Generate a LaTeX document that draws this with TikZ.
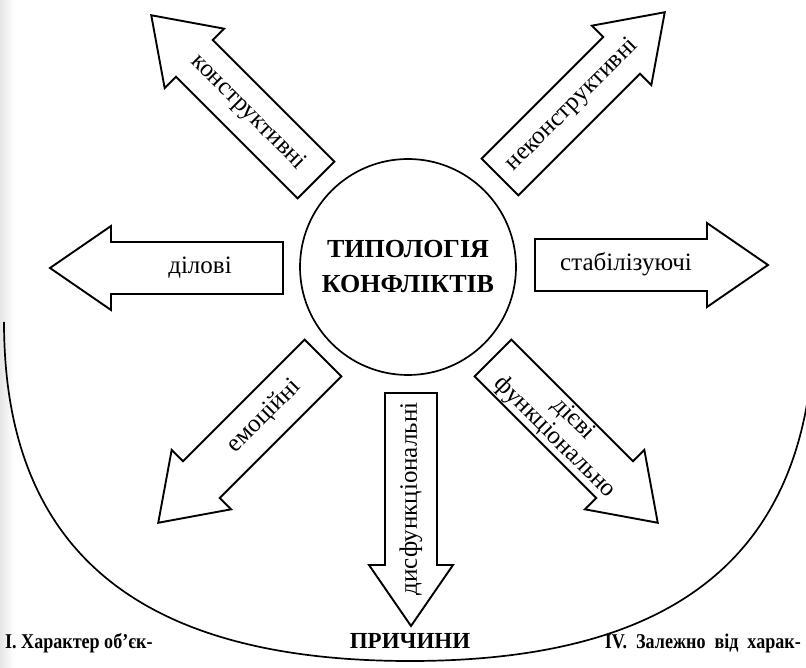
\documentclass[tikz,border=0pt]{standalone}
\usepackage{fontspec}
\setmainfont{Liberation Serif}
\newfontfamily\bookfont{Liberation Serif}
\newfontfamily\condfont[FakeStretch=0.86]{Liberation Serif}
\begin{document}
\begin{tikzpicture}[x=1pt,y=-1pt,
  outline/.style={draw=black, line width=1.9pt, line join=miter, fill=white},
  arrowtext/.style={font=\bookfont\fontsize{25}{26}\selectfont, inner sep=0pt,
    align=center, text height=11.5pt, text depth=0pt},
  hubstyle/.style={circle, draw=black, line width=1.7pt, minimum size=216pt,
    font=\bookfont\bfseries\fontsize{26}{35}\selectfont, align=center, inner sep=0pt},
  foot/.style={font=\condfont\bfseries\fontsize{21}{24}\selectfont, inner sep=0pt},
  foothead/.style={font=\bookfont\bfseries\fontsize{23}{24}\selectfont, inner sep=0pt},
  pics/bigarrow/.style={code={
    \draw[outline] (0,-26) -- (172,-26) -- (172,-42) -- (233,0)
      -- (172,42) -- (172,26) -- (0,26) -- cycle;}}]
\useasboundingbox (0,0) rectangle (806,668);
\fill[white] (0,0) rectangle (806,668);
% faint shadow of the page edge
\fill[left color=black!10, right color=white] (0,0) rectangle (14,668);

% lower arc enclosing the typology
\begin{scope}
  \clip (0,0) rectangle (806,668);
  \draw[line width=1.7pt] (4,322) .. controls (4,560) and (150,661) .. (410,661)
    .. controls (670,661) and (814,560) .. (814,318);
\end{scope}

% arrows radiating from the centre
\begin{scope}[shift={(316,180)}, rotate=135]
  \pic[transform shape] {bigarrow};
  \node[arrowtext, rotate=-45] (constr) at (96,0) {конструктивні};
\end{scope}
\begin{scope}[shift={(500,177)}, rotate=45]
  \pic[transform shape] {bigarrow};
  \node[arrowtext, rotate=45] (nonconstr) at (102,0) {неконструктивні};
\end{scope}
\begin{scope}[shift={(283,268)}, rotate=180]
  \pic[transform shape] {bigarrow};
  \node[arrowtext] (business) at (83,0) {ділові};
\end{scope}
\begin{scope}[shift={(535,265)}, rotate=0]
  \pic[transform shape] {bigarrow};
  \node[arrowtext] (stab) at (91,0) {стабілізуючі};
\end{scope}
\begin{scope}[shift={(323,358)}, rotate=-135]
  \pic[transform shape] {bigarrow};
  \node[arrowtext, rotate=45] (emot) at (83,0) {емоційні};
\end{scope}
\begin{scope}[shift={(493,358)}, rotate=-45]
  \pic[transform shape] {bigarrow};
  \node[arrowtext, rotate=-45, text height=, text depth=] (func) at (100,0)
    {дієві\\функціонально};
\end{scope}
\begin{scope}[shift={(411,393)}, rotate=-90]
  \pic[transform shape] {bigarrow};
  \node[arrowtext, rotate=90] (dysf) at (106,0) {дисфункціональні};
\end{scope}

% central circle
\node[hubstyle] (hub) at (408,267) {ТИПОЛОГІЯ\\КОНФЛІКТІВ};

% headings along the bottom (justified column text, hence the wide spaces)
\node[foot, anchor=base west] (causes1) at (5,648) {I. Характер об’єк-};
\node[foothead, anchor=base] (causes) at (410,648) {ПРИЧИНИ};
\node[foot, anchor=base east] (causes4) at (801,648)
  {IV.\hspace{9pt}Залежно\hspace{9pt}від\hspace{9pt}харак-};
\end{tikzpicture}
\end{document}
